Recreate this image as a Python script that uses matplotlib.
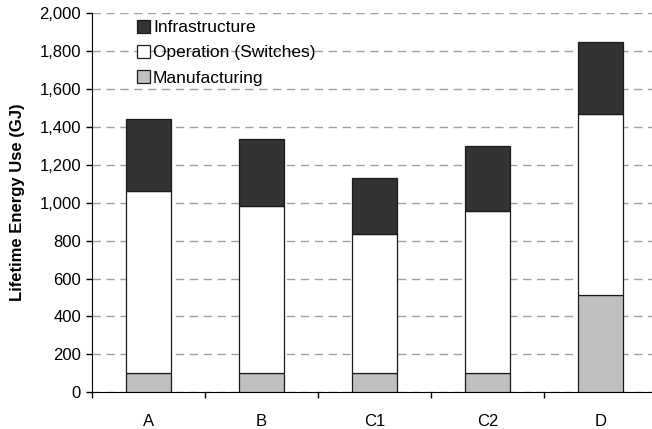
import matplotlib
matplotlib.use("Agg")
import matplotlib.pyplot as plt
import numpy as np
from matplotlib.ticker import FuncFormatter, FixedLocator

plt.rcParams['font.family'] = ['Liberation Sans', 'DejaVu Sans']

categories = ["A", "B", "C1", "C2", "D"]
manufacturing = [100, 100, 100, 100, 511]
operation = [960, 880, 735, 858, 955]
infrastructure = [380, 355, 295, 342, 381]

fig = plt.figure(figsize=(6.52, 4.29), dpi=100)
W, H = 652, 429
ax = fig.add_axes([92 / W, (H - 392.3) / H, (657 - 92) / W, (392.3 - 13) / H])

x = np.arange(len(categories))
w = 0.4
ec = "#1a1a1a"
lw = 0.9
man = np.array(manufacturing)
op = np.array(operation)
inf = np.array(infrastructure)
b1 = ax.bar(x, man, w, color="#c0c0c0", edgecolor=ec, linewidth=lw, zorder=3, label="Manufacturing")
b2 = ax.bar(x, op, w, bottom=man, color="white", edgecolor=ec, linewidth=lw, zorder=3, label="Operation (Switches)")
b3 = ax.bar(x, inf, w, bottom=man + op, color="#333333", edgecolor=ec, linewidth=lw, zorder=3, label="Infrastructure")

ax.set_xlim(-0.5, len(categories) - 0.5)
ax.set_ylim(0, 2000)
ax.set_yticks(np.arange(0, 2001, 200))
ax.yaxis.set_major_formatter(FuncFormatter(lambda v, p: f"{int(v):,}"))
ax.yaxis.grid(True, linestyle=(0, (6, 4)), color="#a0a0a0", linewidth=1.0, zorder=0)
ax.set_axisbelow(True)

ax.set_xticks(x)
ax.set_xticklabels(categories)
ax.xaxis.set_minor_locator(FixedLocator(np.arange(-0.5, len(categories), 1.0)))
ax.tick_params(axis='x', which='major', length=0, pad=15.5, labelsize=12)
ax.tick_params(axis='x', which='minor', length=4, direction='out', width=1, color="black")
ax.tick_params(axis='y', length=4, direction='out', width=1, labelsize=12, pad=4)

for s in ["top", "right"]:
    ax.spines[s].set_visible(False)
ax.spines["left"].set_color("black")
ax.spines["bottom"].set_color("black")

ax.set_ylabel("Lifetime Energy Use (GJ)", fontsize=12, fontweight="bold")
ax.yaxis.set_label_coords(-67 / 565, 0.5)

handles = [b3, b2, b1]
leg = ax.legend(handles, [h.get_label() for h in handles], loc="upper left",
                bbox_to_anchor=(38.5 / 565, 1.0), frameon=False, fontsize=12.5,
                handlelength=0.75, handleheight=0.75, handletextpad=0.15,
                labelspacing=0.56, borderaxespad=0.0)

fig.savefig("out.png", dpi=100)
